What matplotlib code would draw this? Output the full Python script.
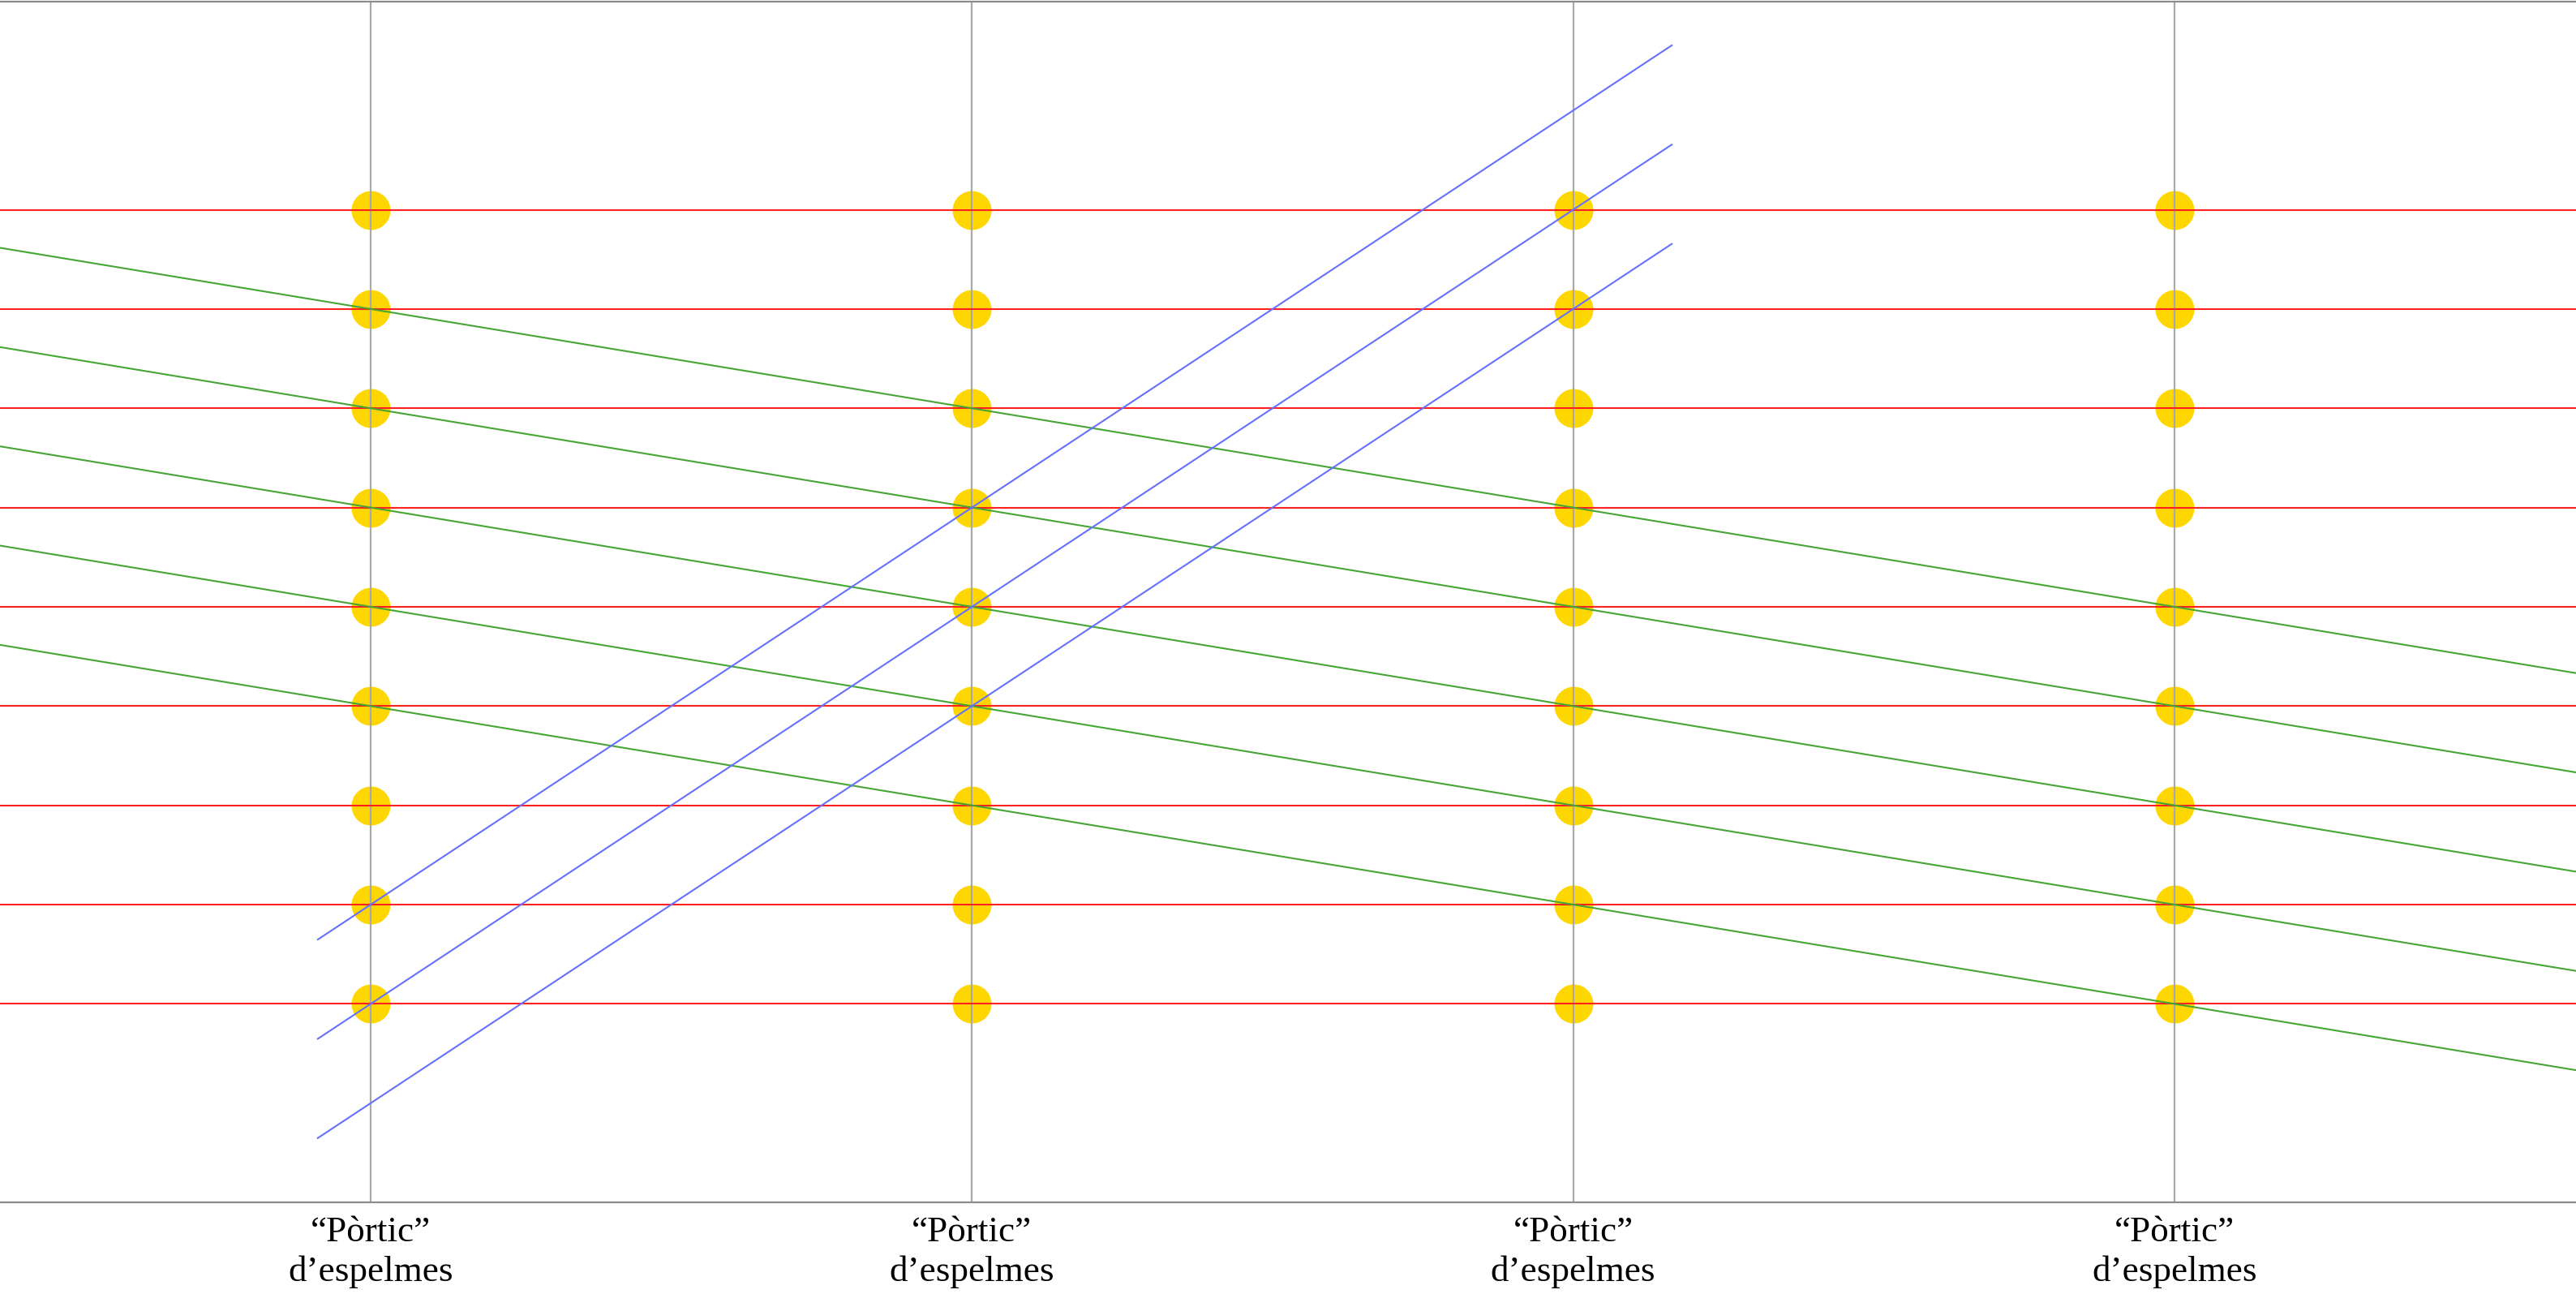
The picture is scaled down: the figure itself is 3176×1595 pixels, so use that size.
import matplotlib.pyplot as plt
import numpy as np

# four candle "porticoes" along x, nine candle levels each
portics = [0, 1, 2, 3]
portic_labels = ["\u201cP\u00f2rtic\u201d\nd\u2019espelmes"] * 4
levels = [1, 2, 3, 4, 5, 6, 7, 8, 9]

# descending (green) lines: y = b - x
green_intercepts = [8, 7, 6, 5, 4]
green_slope = -1

# ascending (blue) lines: y = b + 4x, only over a limited stretch
blue_intercepts = [2, 1, 0]
blue_slope = 4
blue_x = [-0.088, 2.164]

fig = plt.figure(figsize=(31.76, 15.95), dpi=100)
ax = fig.add_axes([0, 0.0708, 1, 0.9282])

xs, ys = np.meshgrid(portics, levels)
ax.scatter(xs.ravel(), ys.ravel(), s=48 ** 2 * 0.5184, color="#ffd700",
           linewidths=0, zorder=1)

for p in portics:
    ax.axvline(p, color="#a8a8a8", lw=1.6, zorder=2)

for lv in levels:
    ax.axhline(lv, color="#ff2020", lw=1.5, zorder=3)

for b in green_intercepts:
    ax.axline((0, b), slope=green_slope, color="#45a535", lw=1.5, zorder=4)

bx = np.array(blue_x)
for b in blue_intercepts:
    ax.plot(bx, b + blue_slope * bx, color="#6470ff", lw=1.5, zorder=4)

ax.set_xlim(-0.6166, 3.668)
ax.set_ylim(-1, 11.1)

ax.set_xticks(portics)
ax.set_xticklabels(portic_labels, family="Liberation Serif", fontsize=32.5,
                   linespacing=1.27)
ax.tick_params(axis="x", length=0, pad=12)
ax.set_yticks([])

for side in ["left", "right"]:
    ax.spines[side].set_visible(False)
for side in ["top", "bottom"]:
    ax.spines[side].set_color("#8c8c8c")
    ax.spines[side].set_linewidth(1.6)

fig.savefig("out.png", dpi=100)
